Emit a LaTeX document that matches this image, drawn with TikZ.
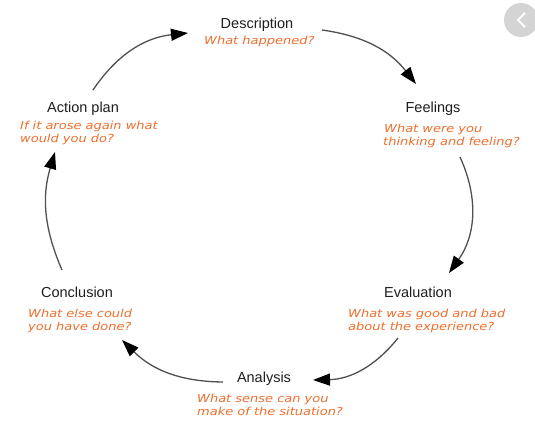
\documentclass[tikz,border=0pt]{standalone}
\usepackage{fontspec}
\setmainfont{Liberation Sans}
\newfontfamily\subfont[FakeStretch=1.18]{DejaVu Sans}
\usetikzlibrary{arrows.meta}
\definecolor{subcol}{HTML}{EE6F2D}
\definecolor{titcol}{HTML}{1E1E1E}
\definecolor{arrcol}{HTML}{505050}
\definecolor{btncol}{HTML}{D4D4D4}
\tikzset{
  ttl/.style={anchor=base, inner sep=0pt, text=titcol, font=\fontsize{14.5}{16}\selectfont},
  sub/.style={anchor=base west, inner sep=0pt, text=subcol, font=\subfont\itshape\fontsize{11}{13}\selectfont},
  cyc/.style={draw=arrcol, line width=1.3pt, -{Triangle[length=17pt,width=12pt,color=black]}},
}
\begin{document}
\begin{tikzpicture}[x=1pt,y=1pt]
\useasboundingbox[fill=white] (0,0) rectangle (535,-429);
% overlay button at top right
\fill[btncol] (521,-20) circle (17);
\draw[white, line width=2pt] (525,-13) -- (518,-20) -- (525,-27);
% titles
\node[ttl] (desc) at (257,-28) {Description};
\node[ttl] (feel) at (433,-112) {Feelings};
\node[ttl] (eval) at (418,-297) {Evaluation};
\node[ttl] (anal) at (264,-382) {Analysis};
\node[ttl] (conc) at (77,-297) {Conclusion};
\node[ttl] (act)  at (83,-112) {Action plan};
% subtitles
\node[sub] (desc1) at (204,-44) {What happened?};
\node[sub] (feel1) at (384,-132) {What were you};
\node[sub] (feel2) at (383,-145) {thinking and feeling?};
\node[sub] (eval1) at (348,-317) {What was good and bad};
\node[sub] (eval2) at (348,-330) {about the experience?};
\node[sub] (anal1) at (197,-402) {What sense can you};
\node[sub] (anal2) at (197,-415) {make of the situation?};
\node[sub] (conc1) at (28,-317) {What else could};
\node[sub] (conc2) at (28,-330) {you have done?};
\node[sub] (act1)  at (20,-129) {If it arose again what};
\node[sub] (act2)  at (20,-142) {would you do?};
% arrow end points
\coordinate (a1s) at (93,-90);   \coordinate (a1e) at (188,-33);
\coordinate (a2s) at (322,-30);  \coordinate (a2e) at (416,-84);
\coordinate (a3s) at (460,-157); \coordinate (a3e) at (449,-273);
\coordinate (a4s) at (398,-338); \coordinate (a4e) at (313,-380);
\coordinate (a5s) at (223,-382); \coordinate (a5e) at (122,-340);
\coordinate (a6s) at (62,-270);  \coordinate (a6e) at (55,-152);
\draw[cyc] (a1s) to[bend left=25] (a1e);
\draw[cyc] (a2s) to[bend left=22] (a2e);
\draw[cyc] (a3s) to[bend left=30] (a3e);
\draw[cyc] (a4s) to[bend left=25] (a4e);
\draw[cyc] (a5s) to[bend left=22] (a5e);
\draw[cyc] (a6s) to[bend left=20] (a6e);
\end{tikzpicture}
\end{document}
